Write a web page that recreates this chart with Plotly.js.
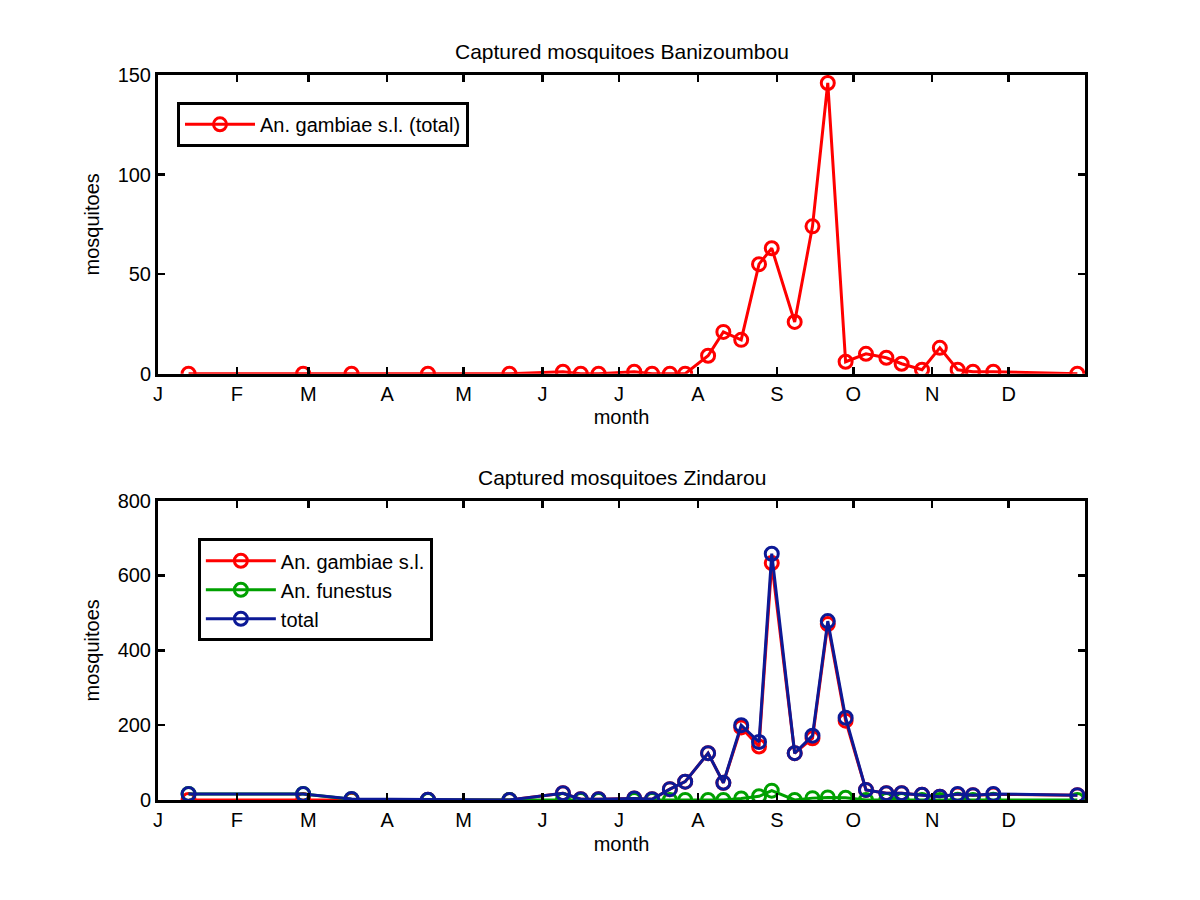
<!DOCTYPE html>
<html>
<head>
<meta charset="utf-8">
<script src="https://cdn.plot.ly/plotly-3.0.1.min.js"></script>
<style>html,body{margin:0;padding:0;background:#fff;}#chart{width:1200px;height:900px;}</style>
</head>
<body>
<div id="chart"></div>
<script>
// Day of year of each capture
const days = [13, 58, 77, 107, 139, 160, 167, 174, 188, 195, 202, 208, 217, 223, 230, 237, 242, 251, 258, 264, 271, 279, 287, 293, 301, 308, 315, 321, 329, 362];

// Banizoumbou
const baniGambiae = [0, 0, 0, 0, 0, 1, 0, 0, 1, 0, 0, 0, 9, 21, 17, 55, 63, 26, 74, 146, 6, 10, 8, 5, 2, 13, 2, 1, 1, 0];

// Zindarou
const zindGambiae = [0, 0, 1, 1, 0, 18, 2, 2, 4, 2, 29, 49, 125, 46, 194, 143, 633, 125, 165, 470, 212, 27, 18, 18, 14, 9, 15, 13, 15, 13];
const zindFunestus = [16, 16, 2, 0, 0, 0, 0, 0, 0, 0, 0, 0, 0, 0, 4, 10, 25, 0, 5, 7, 6, 0, 0, 0, 0, 0, 1, 0, 1, 0];
const zindTotal = [16, 16, 3, 1, 0, 18, 2, 2, 4, 2, 29, 49, 125, 46, 200, 155, 658, 125, 172, 478, 220, 27, 18, 18, 14, 9, 16, 13, 16, 13];

// Month ticks
const monthDays = [1, 32, 60, 91, 121, 152, 182, 213, 244, 274, 305, 335];
const monthLabels = ['J', 'F', 'M', 'A', 'M', 'J', 'J', 'A', 'S', 'O', 'N', 'D'];

const FONT = 'Liberation Sans, Arial, sans-serif';
const RED = '#ff0000', GREEN = '#00a000', BLUE = '#0c1996';

function tr(y, name, color, xa, ya, legend) {
  return {
    x: days, y: y, name: name, type: 'scatter', mode: 'lines+markers',
    xaxis: xa, yaxis: ya, legend: legend,
    line: {color: color, width: 3},
    marker: {symbol: 'circle-open', size: 13, color: color, line: {color: color, width: 3}}
  };
}

const data = [
  tr(baniGambiae, 'An. gambiae s.l. (total)', RED, 'x', 'y', 'legend'),
  tr(zindGambiae, 'An. gambiae s.l.', RED, 'x2', 'y2', 'legend2'),
  tr(zindFunestus, 'An. funestus', GREEN, 'x2', 'y2', 'legend2'),
  tr(zindTotal, 'total', BLUE, 'x2', 'y2', 'legend2')
];

function xax(anchor) {
  return {
    anchor: anchor, range: [1, 365], tickvals: monthDays, ticktext: monthLabels,
    ticks: 'inside', ticklen: 7, tickwidth: 2.5, tickcolor: '#000',
    showline: true, linewidth: 3, linecolor: '#000', mirror: 'allticks',
    showgrid: false, zeroline: false,
    tickfont: {family: FONT, size: 20, color: '#000'},
    title: {text: 'month', font: {family: FONT, size: 20, color: '#000'}, standoff: 7}
  };
}
function yax(anchor, domain, range, dtick) {
  return {
    anchor: anchor, domain: domain, range: range, dtick: dtick, tick0: 0,
    ticks: 'inside', ticklen: 7, tickwidth: 2.5, tickcolor: '#000',
    showline: true, linewidth: 3, linecolor: '#000', mirror: 'allticks',
    showgrid: false, zeroline: false,
    tickfont: {family: FONT, size: 20, color: '#000'},
    title: {text: 'mosquitoes', font: {family: FONT, size: 20, color: '#000'}, standoff: 13}
  };
}

const legendBase = {
  bgcolor: '#fff', bordercolor: '#000', borderwidth: 3,
  font: {family: FONT, size: 20, color: '#000'},
  xanchor: 'left', yanchor: 'top', itemwidth: 70, tracegroupgap: 0
};

const layout = {
  width: 1200, height: 900,
  margin: {l: 158, r: 115, t: 75, b: 100},
  paper_bgcolor: '#fff', plot_bgcolor: '#fff',
  showlegend: true,
  xaxis: Object.assign(xax('y'), {domain: [0, 1]}),
  yaxis: yax('x', [0.588, 1], [0, 150], 50),
  xaxis2: Object.assign(xax('y2'), {domain: [0, 1]}),
  yaxis2: yax('x2', [0, 0.413], [0, 800], 200),
  legend: Object.assign({}, legendBase, {x: 0.0205, y: 0.963}),
  legend2: Object.assign({}, legendBase, {x: 0.043, y: 0.361}),
  annotations: [
    {text: 'Captured mosquitoes Banizoumbou', xref: 'paper', yref: 'paper', x: 0.5, y: 1, yshift: 10,
     xanchor: 'center', yanchor: 'bottom', showarrow: false, font: {family: FONT, size: 21, color: '#000'}},
    {text: 'Captured mosquitoes Zindarou', xref: 'paper', yref: 'paper', x: 0.5, y: 0.413, yshift: 10,
     xanchor: 'center', yanchor: 'bottom', showarrow: false, font: {family: FONT, size: 21, color: '#000'}}
  ]
};

Plotly.newPlot('chart', data, layout, {displayModeBar: false, staticPlot: true});
</script>
</body>
</html>
